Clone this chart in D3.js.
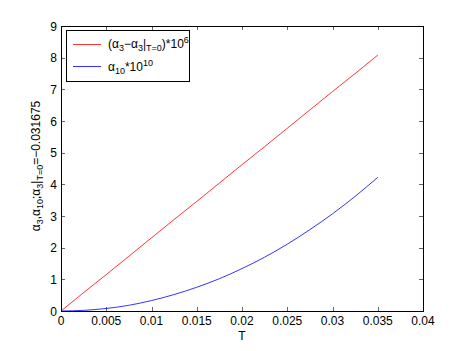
<!DOCTYPE html>
<html><head><meta charset="utf-8">
<script src="https://cdn.jsdelivr.net/npm/d3@7"></script>
<style>
body{margin:0;background:#fff;}
text{font-family:"Liberation Sans",Arial,Helvetica,sans-serif;fill:#000;}
</style></head>
<body><svg id="c" width="467" height="351"></svg>
<script>
const T = [0,0.0025,0.005,0.0075,0.01,0.0125,0.015,0.0175,0.02,0.0225,0.025,0.0275,0.03,0.0325,0.035];
const alpha3 = [0,0.58,1.15,1.73,2.31,2.89,3.46,4.04,4.62,5.19,5.77,6.35,6.93,7.50,8.08];
const alpha10 = [0,0.02,0.08,0.18,0.33,0.52,0.75,1.02,1.34,1.70,2.11,2.57,3.07,3.62,4.22];
const xTicks = [0,0.005,0.01,0.015,0.02,0.025,0.03,0.035,0.04];
const yTicks = [0,1,2,3,4,5,6,7,8,9];

const svg = d3.select("#c");
const L=61,R=423,Tp=26,B=311;
const x = d3.scaleLinear().domain([0,0.04]).range([L,R]);
const y = d3.scaleLinear().domain([0,9]).range([B,Tp]);

svg.append("rect").attr("width",467).attr("height",351).attr("fill","#fff");

const fs = 12, ss = 9;
const g = svg.append("g");
xTicks.forEach(t=>{
  const px = Math.round(x(t))+0.5;
  g.append("line").attr("x1",px).attr("x2",px).attr("y1",B).attr("y2",B-4).attr("stroke","#000").attr("stroke-width",0.6);
  g.append("line").attr("x1",px).attr("x2",px).attr("y1",Tp).attr("y2",Tp+4).attr("stroke","#000").attr("stroke-width",0.6);
  g.append("text").attr("x",x(t)).attr("y",325).attr("text-anchor","middle").attr("font-size",fs).text(d3.format("")(t));
});
yTicks.forEach(t=>{
  const py = Math.round(y(t))+0.5;
  g.append("line").attr("x1",L).attr("x2",L+4).attr("y1",py).attr("y2",py).attr("stroke","#000").attr("stroke-width",0.6);
  g.append("line").attr("x1",R).attr("x2",R-4).attr("y1",py).attr("y2",py).attr("stroke","#000").attr("stroke-width",0.6);
  g.append("text").attr("x",57).attr("y",y(t)+4.5).attr("text-anchor","end").attr("font-size",fs).text(t);
});

const line = d3.line().x(d=>x(d[0])).y(d=>y(d[1]));
svg.append("path").datum(T.map((t,i)=>[t,alpha3[i]])).attr("d",line).attr("fill","none").attr("stroke","#ff0000").attr("stroke-width",0.8);
svg.append("path").datum(T.map((t,i)=>[t,alpha10[i]])).attr("d",d3.line().curve(d3.curveMonotoneX).x(d=>x(d[0])).y(d=>y(d[1]))).attr("fill","none").attr("stroke","#0000ff").attr("stroke-width",0.8);

svg.append("rect").attr("x",L+0.5).attr("y",Tp+0.5).attr("width",R-L).attr("height",B-Tp).attr("fill","none").attr("stroke","#000").attr("stroke-width",1);

svg.append("text").attr("x",(L+R)/2).attr("y",339.5).attr("text-anchor","middle").attr("font-size",fs).text("T");

const yl = svg.append("text").attr("transform","translate(40,166) rotate(-90)").attr("text-anchor","middle").attr("font-size",fs);
yl.append("tspan").text("α");
yl.append("tspan").attr("font-size",ss).attr("dy",3).text("3");
yl.append("tspan").attr("dy",-3).text(",α");
yl.append("tspan").attr("font-size",ss).attr("dy",3).text("10");
yl.append("tspan").attr("dy",-3).text(";α");
yl.append("tspan").attr("font-size",ss).attr("dy",3).text("3");
yl.append("tspan").attr("dy",-3).text("|");
yl.append("tspan").attr("font-size",ss).attr("dy",3).text("T=0");
yl.append("tspan").attr("dy",-3).text("=−0.031675");

const lg = svg.append("g");
lg.append("rect").attr("x",66.5).attr("y",30.5).attr("width",123).attr("height",51).attr("fill","#fff").attr("stroke","#000").attr("stroke-width",1);
lg.append("line").attr("x1",73).attr("x2",101).attr("y1",44.5).attr("y2",44.5).attr("stroke","#ff0000").attr("stroke-width",0.8);
lg.append("line").attr("x1",73).attr("x2",101).attr("y1",66.5).attr("y2",66.5).attr("stroke","#0000ff").attr("stroke-width",0.8);
const t1 = lg.append("text").attr("x",108).attr("y",48).attr("font-size",fs);
t1.append("tspan").text("(α");
t1.append("tspan").attr("font-size",ss).attr("dy",3).text("3");
t1.append("tspan").attr("dy",-3).text("−α");
t1.append("tspan").attr("font-size",ss).attr("dy",3).text("3");
t1.append("tspan").attr("dy",-3).text("|");
t1.append("tspan").attr("font-size",ss).attr("dy",3).text("T=0");
t1.append("tspan").attr("dy",-3).text(")*10");
t1.append("tspan").attr("font-size",ss).attr("dy",-5).text("6");
const t2 = lg.append("text").attr("x",108).attr("y",71).attr("font-size",fs);
t2.append("tspan").text("α");
t2.append("tspan").attr("font-size",ss).attr("dy",3).text("10");
t2.append("tspan").attr("dy",-3).text("*10");
t2.append("tspan").attr("font-size",ss).attr("dy",-5).text("10");
</script></body></html>
